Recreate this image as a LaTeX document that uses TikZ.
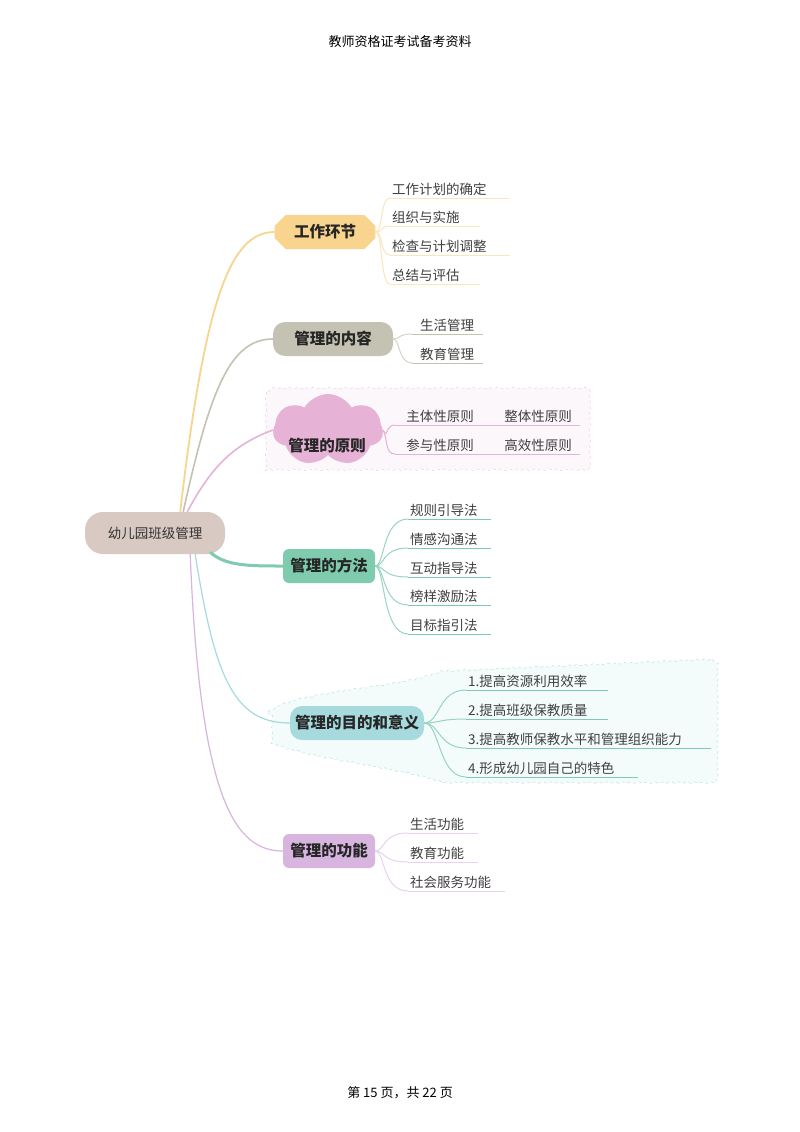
\documentclass[tikz,border=0pt]{standalone}
\usepackage{fontspec}
\setmainfont{Noto Sans CJK SC}
\usetikzlibrary{shapes.symbols,shapes.misc,decorations.pathmorphing}
\definecolor{cY}{HTML}{F8D48E}\definecolor{cG}{HTML}{C4C2B2}\definecolor{cP}{HTML}{E6B3D6}
\definecolor{cT}{HTML}{7ECBAE}\definecolor{cC}{HTML}{A6DADD}\definecolor{cV}{HTML}{D7B5DF}
\definecolor{cR}{HTML}{D8C9C3}
\tikzset{
 br/.style={rounded corners=6pt,font=\bfseries\fontsize{15.5}{17}\selectfont,text=black!85,inner sep=0pt,minimum height=34pt},
 leaf/.style={font=\fontsize{13.5}{15}\selectfont,text=black!75,anchor=south west,inner sep=2pt},
 ul/.style={line width=1pt},
 cn/.style={line width=1.2pt},
}
\begin{document}
\begin{tikzpicture}[x=1pt,y=-1pt]
\useasboundingbox (0,0) rectangle (800,1132);
\fill[white] (0,0) rectangle (800,1132);
\node[font=\fontsize{13}{15}\selectfont] (hd) at (400,42) {教师资格证考试备考资料};
\node[font=\fontsize{13}{15}\selectfont] (ft) at (400,1093) {第 15 页，共 22 页};
% dashed regions
\draw[cP!70,dashed,fill=cP!10,decorate,decoration={snake,amplitude=0.8pt,segment length=8pt}] (266,392) rectangle (589,470);
\draw[cC!90,dashed,fill=cC!12,decorate,decoration={snake,amplitude=0.8pt,segment length=8pt}]
 (268,712) .. controls (300,690) and (400,690) .. (440,672) -- (710,660) -- (716,665) -- (716,780) -- (710,785) -- (440,785) .. controls (400,770) and (300,760) .. (268,745) -- cycle;
% root
\node[fill=cR,rounded corners=18pt,minimum width=140pt,minimum height=42pt,font=\fontsize{13.5}{15}\selectfont,text=black!80] (root) at (155,533) {幼儿园班级管理};
% branches
\node[br,fill=cY,chamfered rectangle,chamfered rectangle xsep=8pt,rounded corners=0pt,minimum width=100pt,inner xsep=12pt] (b1) at (325,232) {工作环节};
\node[br,fill=cG,minimum width=120pt,rounded corners=12pt] (b2) at (333,339) {管理的内容};
\node[br,fill=cP,cloud,cloud puffs=7,cloud puff arc=120,aspect=1.7,minimum width=110pt,minimum height=72pt,rounded corners=0pt] (b3) at (328,430) {};
\node[br,minimum height=20pt] (b3t) at (327,446) {管理的原则};
\node[br,fill=cT,minimum width=92pt] (b4) at (329,566) {管理的方法};
\node[br,fill=cC,minimum width=134pt,rounded corners=12pt] (b5) at (357,723) {管理的目的和意义};
\node[br,fill=cV,minimum width=92pt] (b6) at (329,851) {管理的功能};
% root connectors
\draw[cn,cY,line width=1.8pt] (root.north east)++(-45,0) .. controls (205,300) and (230,232) .. (b1.west);
\draw[cn,cG,line width=1.6pt] (root.north east)++(-42,0) .. controls (210,390) and (230,339) .. (b2.west);
\draw[cn,cP,line width=1.6pt] (root.north east)++(-38,0) .. controls (210,470) and (230,446) .. (b3.west);
\draw[cT,line width=3pt] (root.south east)++(-15,-2) .. controls (225,566) and (250,566) .. (b4.west);
\draw[cn,cC] (root.south east)++(-30,0) .. controls (215,680) and (235,723) .. (b5.west);
\draw[cn,cV] (root.south east)++(-35,0) .. controls (200,800) and (235,851) .. (b6.west);
% branch 1
\foreach \n/\y/\t/\e in {a/198/工作计划的确定/510,b/226/组织与实施/480,c/255/检查与计划调整/510,d/284/总结与评估/480}{
  \node[leaf] (l1\n) at (390,\y) {\t};
  \draw[ul,cY!60] (l1\n.south west) -- (\e,\y);
  \draw[ul,cY!60] (b1.east) .. controls (383,232) and (380,\y) .. (l1\n.south west);
}
\foreach \n/\y/\t in {a/334/生活管理,b/363/教育管理}{
  \node[leaf,anchor=south] (l2\n) at (447,\y) {\t};
  \draw[ul,cG] (412,\y) -- (483,\y);
  \draw[ul,cG!70] (b2.east) .. controls (400,339) and (398,\y) .. (412,\y);
}
\foreach \n/\y/\t/\x in {a/425/主体性原则/440,b/425/整体性原则/538,c/454/参与性原则/440,d/454/高效性原则/538}{
  \node[leaf,anchor=south] (l3\n) at (\x,\y) {\t};
}
\foreach \y in {425,454}{
  \draw[ul,cP] (395,\y) -- (580,\y);
  \draw[ul,cP] (b3.east) .. controls (388,440) and (385,\y) .. (395,\y);
}
\foreach \n/\y/\t in {a/519/规则引导法,b/548/情感沟通法,c/577/互动指导法,d/605/榜样激励法,e/634/目标指引法}{
  \node[leaf] (l4\n) at (408,\y) {\t};
  \draw[ul,cT] (l4\n.south west) -- (491,\y);
  \draw[ul,cT!80] (b4.east) .. controls (385,566) and (382,\y) .. (l4\n.south west);
}
\foreach \n/\y/\t/\e in {a/690/1.提高资源利用效率/608,b/719/2.提高班级保教质量/608,c/748/3.提高教师保教水平和管理组织能力/711,d/777/4.形成幼儿园自己的特色/638}{
  \node[leaf] (l5\n) at (466,\y) {\t};
  \draw[ul,cT] (l5\n.south west) -- (\e,\y);
  \draw[ul,cT!80] (b5.east) .. controls (440,723) and (438,\y) .. (l5\n.south west);
}
\foreach \n/\y/\t/\e in {a/833/生活功能/478,b/862/教育功能/478,c/891/社会服务功能/505}{
  \node[leaf] (l6\n) at (408,\y) {\t};
  \draw[ul,cV!60] (l6\n.south west) -- (\e,\y);
  \draw[ul,cV!60] (b6.east) .. controls (385,851) and (382,\y) .. (l6\n.south west);
}
\end{tikzpicture}
\end{document}
